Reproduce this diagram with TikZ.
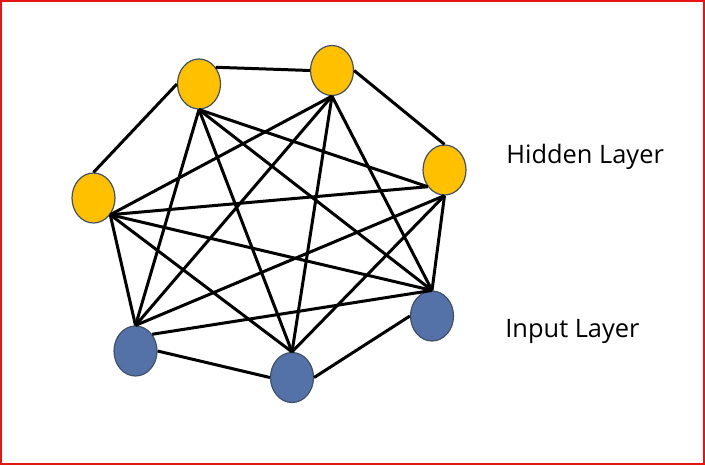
\documentclass[tikz,border=0pt]{standalone}
\usepackage{fontspec}
\setmainfont{Open Sans}
\usetikzlibrary{shapes.geometric}
\definecolor{hidfill}{RGB}{255,192,0}
\definecolor{inpfill}{RGB}{85,114,168}
\definecolor{rimcol}{RGB}{65,80,105}
\definecolor{framered}{RGB}{230,20,20}

\begin{document}
\begin{tikzpicture}[x=0.5pt,y=-0.5pt,
  neuron/.style={ellipse,draw=rimcol,line width=0.6pt,minimum width=21.5pt,minimum height=25pt,inner sep=0pt},
  hid/.style={neuron,fill=hidfill},
  inp/.style={neuron,fill=inpfill},
  wire/.style={line width=1.5pt,black},
  lbl/.style={font=\fontsize{12.7}{15}\selectfont,anchor=base west,inner sep=0pt}]
\useasboundingbox (0,0) rectangle (705,465);
\draw[framered,line width=1pt] (1,1) rectangle (704,464);

% hidden layer
\node[hid] (h1) at (93.5,198) {};
\node[hid] (h2) at (199,84) {};
\node[hid] (h3) at (332,70.5) {};
\node[hid] (h4) at (444.5,170) {};
% input layer
\node[inp] (i1) at (135.5,351) {};
\node[inp] (i2) at (292,377.5) {};
\node[inp] (i3) at (432,316) {};

\coordinate (h1o) at (h1.-45);
\coordinate (h2o) at (h2.south);
\coordinate (h3o) at (h3.south);
\coordinate (h4o) at (h4.south);
\coordinate (h4l) at (h4.-135);

% links inside the hidden layer
\draw[wire] (h1.north) -- (h2.west);
\draw[wire] (h2.45) -- (h3.west);
\draw[wire] (h3.east) -- (h4.north);
\draw[wire] (h1o) -- (h3o);
\draw[wire] (h1o) -- (h4l);
\draw[wire] (h2o) -- (h4l);

% hidden to input
\foreach \s in {h1o,h2o,h3o,h4o}
{   \foreach \t in {i1,i2,i3}
        \draw[wire] (\s) -- (\t.north);
}

% links inside the input layer
\draw[wire] (i1.east) -- (i2.west);
\draw[wire] (i2.east) -- (i3.west);
\draw[wire] (i1.45) -- (i3.north);

\node[lbl] (hidlbl) at (506,163) {Hidden Layer};
\node[lbl] (inplbl) at (505,337) {Input Layer};
\end{tikzpicture}
\end{document}
